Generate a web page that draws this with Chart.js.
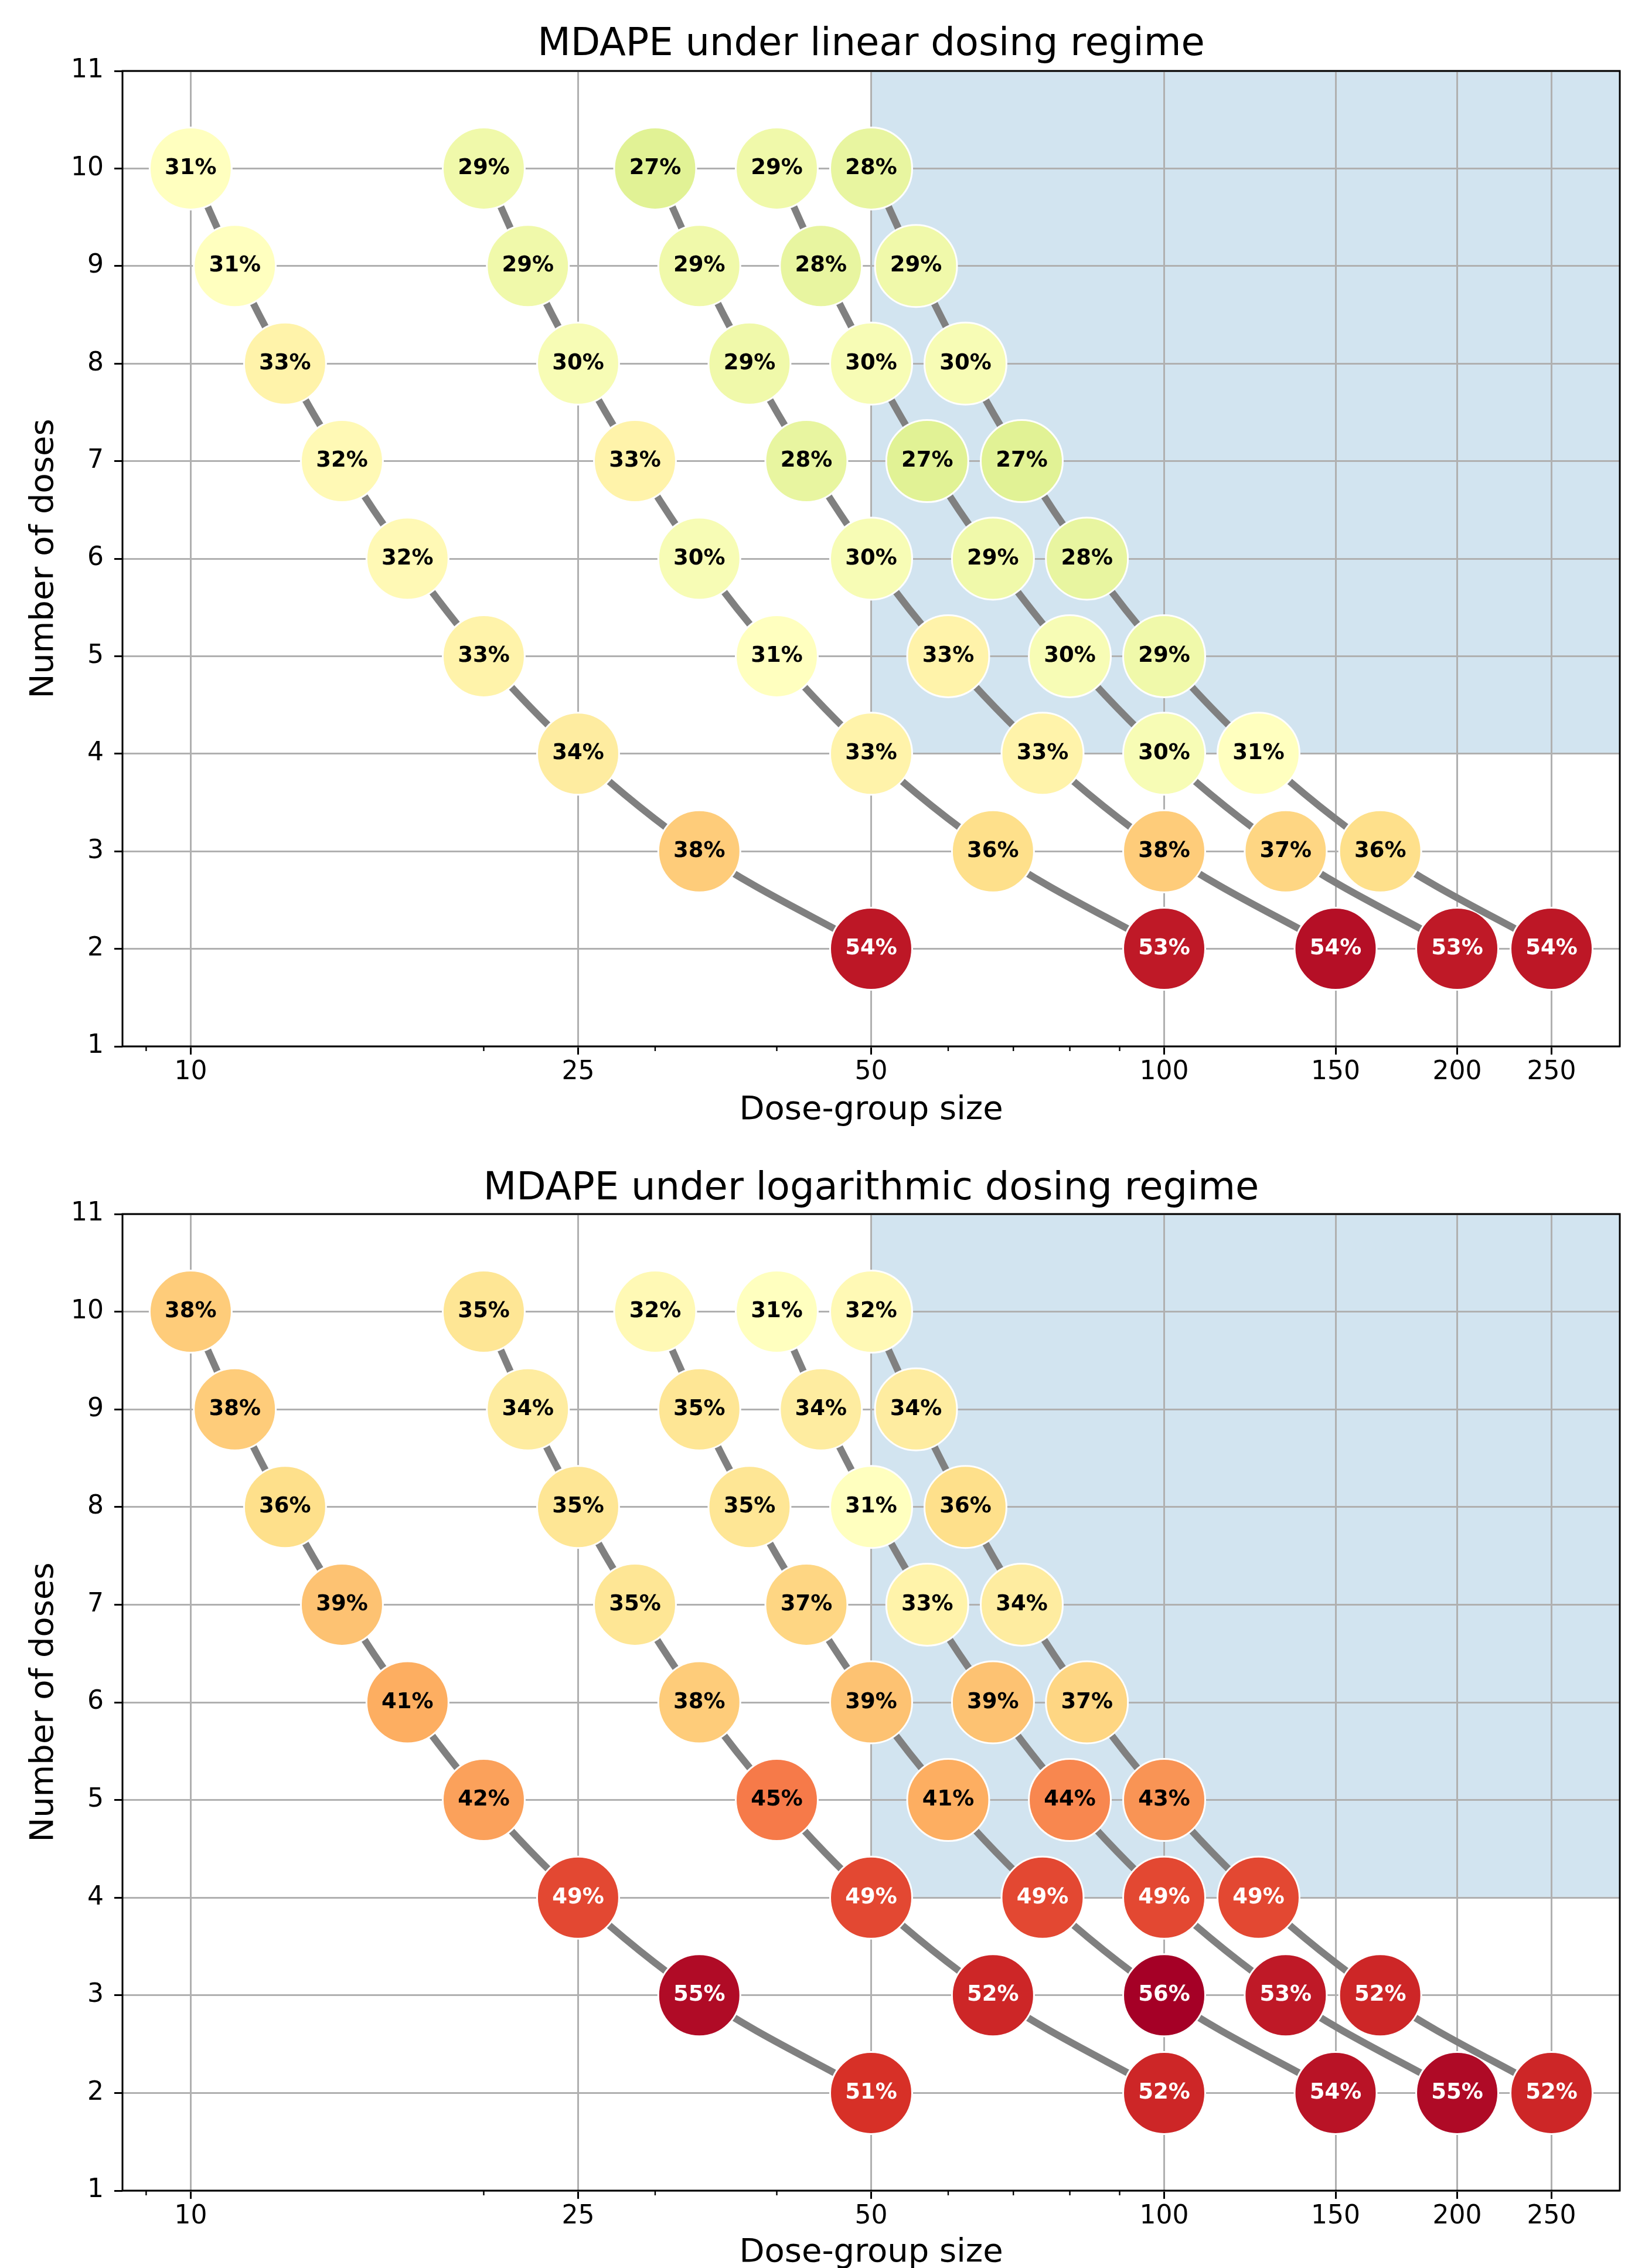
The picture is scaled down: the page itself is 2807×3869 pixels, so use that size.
<!DOCTYPE html>
<html>
<head>
<meta charset="utf-8">
<title>MDAPE under linear and logarithmic dosing regimes</title>
<script src="https://cdn.jsdelivr.net/npm/chart.js@4.4.1/dist/chart.umd.min.js"></script>
<style>
  html, body { margin: 0; padding: 0; background: #fff; overflow: hidden; }
  #page { position: relative; width: 2807px; height: 3869px; overflow: hidden; background: #fff; }
  canvas { position: absolute; left: 0; }
</style>
</head>
<body>
<div id="page">
  <canvas id="linearChart" width="2807" height="1960" style="top:0px"></canvas>
  <canvas id="logChart" width="2807" height="1929" style="top:1960px"></canvas>
</div>
<script>
// number of doses, same for every design curve (top point first)
const numberOfDoses = [10, 9, 8, 7, 6, 5, 4, 3, 2];

// dose-group sizes along each curve (total subjects 100 ... 500)
const sizesTotal100 = [10, 11.1, 12.5, 14.3, 16.7, 20, 25, 33.3, 50];
const sizesTotal200 = [20, 22.2, 25, 28.6, 33.3, 40, 50, 66.7, 100];
const sizesTotal300 = [30, 33.3, 37.5, 42.9, 50, 60, 75, 100, 150];
const sizesTotal400 = [40, 44.4, 50, 57.1, 66.7, 80, 100, 133.3, 200];
const sizesTotal500 = [50, 55.6, 62.5, 71.4, 83.3, 100, 125, 166.7, 250];

// MDAPE (%) under the linear dosing regime
const mdapeLinear100 = [31, 31, 33, 32, 32, 33, 34, 38, 53.6];
const mdapeLinear200 = [29, 29, 30, 33, 30, 31, 33, 36, 53.4];
const mdapeLinear300 = [27, 29, 29, 28, 30, 33, 33, 38, 54.4];
const mdapeLinear400 = [29, 28, 30, 27, 29, 30, 30, 37, 53.4];
const mdapeLinear500 = [28, 29, 30, 27, 28, 29, 31, 36, 53.6];

// MDAPE (%) under the logarithmic dosing regime
const mdapeLog100 = [38, 38, 36, 39, 41, 42, 49, 54.9, 51];
const mdapeLog200 = [35, 34, 35, 35, 38, 45, 49, 52, 52];
const mdapeLog300 = [32, 35, 35, 37, 39, 41, 49, 56, 54];
const mdapeLog400 = [31, 34, 31, 33, 39, 44, 49, 53.4, 55];
const mdapeLog500 = [32, 34, 36, 34, 37, 43, 49, 52, 52];

const xTickValues = [10, 25, 50, 100, 150, 200, 250];
const xMinorTickValues = [9, 20, 30, 40, 60, 70, 80, 90];
const xRange = [8.51, 293.8];
const yRange = [1, 11];
// shaded region: group size >= 50 and at least 4 doses
const shadeMinSize = 50;
const shadeMinDoses = 4;

// colour scale (RdYlGn reversed)
const colorMin = 6;
const colorMax = 56;
const rdylgn = ['#a50026', '#d73027', '#f46d43', '#fdae61', '#fee08b', '#ffffbf',
                '#d9ef8b', '#a6d96a', '#66bd63', '#1a9850', '#006837'];

function hexToRgb(h) {
    return [parseInt(h.slice(1, 3), 16), parseInt(h.slice(3, 5), 16), parseInt(h.slice(5, 7), 16)];
}

function normValue(v) {
    return Math.min(1, Math.max(0, (v - colorMin) / (colorMax - colorMin)));
}

function colorFor(v) {
    const pos = (1 - normValue(v)) * (rdylgn.length - 1);
    const i = Math.min(Math.floor(pos), rdylgn.length - 2);
    const f = pos - i;
    const a = hexToRgb(rdylgn[i]);
    const b = hexToRgb(rdylgn[i + 1]);
    const c = a.map((av, k) => Math.round(av + (b[k] - av) * f));
    return 'rgb(' + c.join(',') + ')';
}

function textColorFor(v) {
    return normValue(v) > 0.8 ? '#ffffff' : '#000000';
}

Chart.defaults.font.family = "'DejaVu Sans', sans-serif";
Chart.defaults.color = '#000';

const shadePlugin = {
    id: 'shade',
    beforeDraw(chart) {
        const {ctx, chartArea, scales: {x, y}} = chart;
        const left = x.getPixelForValue(shadeMinSize);
        const top = y.getPixelForValue(yRange[1]);
        const bottom = y.getPixelForValue(shadeMinDoses);
        ctx.save();
        ctx.fillStyle = 'rgba(31, 119, 180, 0.2)';
        ctx.fillRect(left, top, chartArea.right - left, bottom - top);
        ctx.restore();
    }
};

const valueLabelPlugin = {
    id: 'valueLabels',
    afterDatasetsDraw(chart) {
        const ctx = chart.ctx;
        ctx.save();
        ctx.font = "bold 37px 'DejaVu Sans'";
        ctx.textAlign = 'center';
        ctx.textBaseline = 'middle';
        chart.data.datasets.forEach((ds, i) => {
            chart.getDatasetMeta(i).data.forEach((pt, j) => {
                const v = ds.mdape[j];
                ctx.fillStyle = textColorFor(v);
                ctx.fillText(Math.round(v) + '%', pt.x, pt.y);
            });
        });
        ctx.restore();
    }
};

const framePlugin = {
    id: 'frame',
    afterDraw(chart) {
        const {ctx, chartArea: a, scales: {x}} = chart;
        ctx.save();
        ctx.strokeStyle = '#000';
        // minor ticks on the log axis
        ctx.lineWidth = 2.4;
        xMinorTickValues.forEach(v => {
            const px = x.getPixelForValue(v);
            ctx.beginPath();
            ctx.moveTo(px, a.bottom);
            ctx.lineTo(px, a.bottom + 8);
            ctx.stroke();
        });
        ctx.lineWidth = 3;
        ctx.strokeRect(a.left, a.top, a.right - a.left, a.bottom - a.top);
        ctx.restore();
    }
};

function makeChart(canvasId, titleText, sizeSeries, mdapeSeries, titlePad, xTitlePadBottom, xAxisHeight) {
    const datasets = sizeSeries.map((sizes, k) => ({
        data: sizes.map((s, j) => ({x: s, y: numberOfDoses[j]})),
        mdape: mdapeSeries[k],
        showLine: true,
        borderColor: '#808080',
        borderWidth: 12,
        cubicInterpolationMode: 'monotone',
        pointRadius: 70,
        pointHoverRadius: 70,
        pointBorderWidth: 3,
        pointBorderColor: '#ffffff',
        pointBackgroundColor: mdapeSeries[k].map(colorFor),
        order: 10 - k
    }));

    const gridStyle = {
        color: '#b0b0b0',
        lineWidth: 3,
        drawTicks: true,
        tickLength: 14,
        tickColor: '#000',
        tickWidth: 3
    };

    return new Chart(document.getElementById(canvasId), {
        type: 'scatter',
        data: {datasets: datasets},
        options: {
            responsive: false,
            animation: false,
            events: [],
            layout: {autoPadding: false, padding: {left: 0, right: 43, top: 0, bottom: 0}},
            plugins: {
                legend: {display: false},
                tooltip: {enabled: false},
                title: {
                    display: true,
                    text: titleText,
                    fullSize: false,
                    color: '#000',
                    font: {size: 65.5, weight: 'normal', lineHeight: 1.2},
                    padding: titlePad
                }
            },
            scales: {
                x: {
                    type: 'logarithmic',
                    min: xRange[0],
                    max: xRange[1],
                    afterBuildTicks: s => { s.ticks = xTickValues.map(v => ({value: v})); },
                    afterFit: s => {
                        s.height = xAxisHeight;
                        s.paddingLeft = 0;
                        s.paddingRight = 0;
                    },
                    ticks: {
                        callback: v => String(v),
                        autoSkip: false,
                        maxRotation: 0,
                        minRotation: 0,
                        padding: 4,
                        font: {size: 44},
                        color: '#000'
                    },
                    grid: gridStyle,
                    border: {display: false},
                    title: {
                        display: true,
                        text: 'Dose-group size',
                        color: '#000',
                        font: {size: 56, lineHeight: 1.2},
                        padding: {top: 0, bottom: xTitlePadBottom}
                    }
                },
                y: {
                    type: 'linear',
                    min: yRange[0],
                    max: yRange[1],
                    afterFit: s => { s.width = 209; },
                    ticks: {stepSize: 1, padding: 18, font: {size: 44}, color: '#000'},
                    grid: gridStyle,
                    border: {display: false},
                    title: {
                        display: true,
                        text: 'Number of doses',
                        color: '#000',
                        font: {size: 56, lineHeight: 1.2},
                        padding: {top: 42, bottom: 0}
                    }
                }
            }
        },
        plugins: [shadePlugin, valueLabelPlugin, framePlugin]
    });
}

const allSizes = [sizesTotal100, sizesTotal200, sizesTotal300, sizesTotal400, sizesTotal500];

makeChart('linearChart', 'MDAPE under linear dosing regime', allSizes,
    [mdapeLinear100, mdapeLinear200, mdapeLinear300, mdapeLinear400, mdapeLinear500],
    {top: 37.7, bottom: 4.7}, 32.4, 175);

makeChart('logChart', 'MDAPE under logarithmic dosing regime', allSizes,
    [mdapeLog100, mdapeLog200, mdapeLog300, mdapeLog400, mdapeLog500],
    {top: 29.7, bottom: 2.7}, 12.4, 152);
</script>
</body>
</html>
